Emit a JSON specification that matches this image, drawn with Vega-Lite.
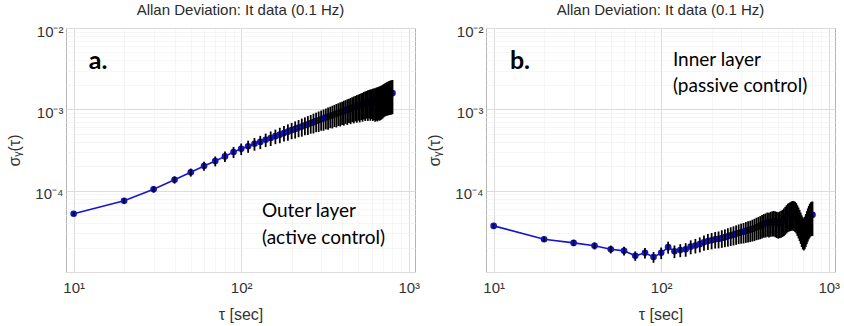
{
 "$schema": "https://vega.github.io/schema/vega-lite/v6.json",
 "background": "white",
 "padding": {"left": 6, "top": 2, "right": 0, "bottom": 0},
 "spacing": 5,
 "datasets": {
  "adev": [
   {"p":"a","t":10,"s":5.2e-5,"e":2.7e-6},{"p":"a","t":20,"s":7.5e-5,"e":5.5e-6},{"p":"a","t":30,"s":1.04e-4,"e":9.3e-6},{"p":"a","t":40,"s":1.36e-4,"e":1.4e-5},{"p":"a","t":50,"s":1.68e-4,"e":1.9e-5},{"p":"a","t":60,"s":2.01e-4,"e":2.5e-5},{"p":"a","t":70,"s":2.31e-4,"e":3.2e-5},{"p":"a","t":80,"s":2.64e-4,"e":3.9e-5},{"p":"a","t":90,"s":2.98e-4,"e":4.6e-5},{"p":"a","t":100,"s":3.27e-4,"e":5.3e-5},
   {"p":"a","t":110,"s":3.52e-4,"e":6.0e-5},{"p":"a","t":120,"s":3.77e-4,"e":6.7e-5},{"p":"a","t":130,"s":3.98e-4,"e":7.4e-5},{"p":"a","t":140,"s":4.23e-4,"e":8.0e-5},{"p":"a","t":150,"s":4.44e-4,"e":9.0e-5},{"p":"a","t":160,"s":4.68e-4,"e":9.5e-5},{"p":"a","t":170,"s":4.88e-4,"e":1.05e-4},{"p":"a","t":180,"s":5.12e-4,"e":1.11e-4},{"p":"a","t":190,"s":5.32e-4,"e":1.21e-4},{"p":"a","t":200,"s":5.55e-4,"e":1.26e-4},
   {"p":"a","t":210,"s":5.74e-4,"e":1.37e-4},{"p":"a","t":220,"s":5.96e-4,"e":1.42e-4},{"p":"a","t":230,"s":6.15e-4,"e":1.54e-4},{"p":"a","t":240,"s":6.38e-4,"e":1.58e-4},{"p":"a","t":250,"s":6.55e-4,"e":1.71e-4},{"p":"a","t":260,"s":6.78e-4,"e":1.76e-4},{"p":"a","t":270,"s":6.95e-4,"e":1.90e-4},{"p":"a","t":280,"s":7.17e-4,"e":1.93e-4},{"p":"a","t":290,"s":7.33e-4,"e":2.07e-4},{"p":"a","t":300,"s":7.56e-4,"e":2.10e-4},
   {"p":"a","t":310,"s":7.71e-4,"e":2.26e-4},{"p":"a","t":320,"s":7.95e-4,"e":2.28e-4},{"p":"a","t":330,"s":8.08e-4,"e":2.45e-4},{"p":"a","t":340,"s":8.32e-4,"e":2.46e-4},{"p":"a","t":350,"s":8.45e-4,"e":2.63e-4},{"p":"a","t":360,"s":8.70e-4,"e":2.64e-4},{"p":"a","t":370,"s":8.81e-4,"e":2.83e-4},{"p":"a","t":380,"s":9.06e-4,"e":2.82e-4},{"p":"a","t":390,"s":9.17e-4,"e":3.02e-4},{"p":"a","t":400,"s":9.42e-4,"e":3.00e-4},
   {"p":"a","t":410,"s":9.52e-4,"e":3.22e-4},{"p":"a","t":420,"s":9.80e-4,"e":3.18e-4},{"p":"a","t":430,"s":9.85e-4,"e":3.42e-4},{"p":"a","t":440,"s":1.015e-3,"e":3.38e-4},{"p":"a","t":450,"s":1.020e-3,"e":3.62e-4},{"p":"a","t":460,"s":1.052e-3,"e":3.56e-4},{"p":"a","t":470,"s":1.055e-3,"e":3.83e-4},{"p":"a","t":480,"s":1.085e-3,"e":3.75e-4},{"p":"a","t":490,"s":1.090e-3,"e":4.05e-4},{"p":"a","t":500,"s":1.120e-3,"e":3.95e-4},
   {"p":"a","t":510,"s":1.115e-3,"e":4.25e-4},{"p":"a","t":520,"s":1.155e-3,"e":4.15e-4},{"p":"a","t":530,"s":1.150e-3,"e":4.45e-4},{"p":"a","t":540,"s":1.190e-3,"e":4.40e-4},{"p":"a","t":550,"s":1.190e-3,"e":4.70e-4},{"p":"a","t":560,"s":1.225e-3,"e":4.55e-4},{"p":"a","t":570,"s":1.215e-3,"e":4.95e-4},{"p":"a","t":580,"s":1.250e-3,"e":4.80e-4},{"p":"a","t":590,"s":1.240e-3,"e":5.15e-4},{"p":"a","t":600,"s":1.260e-3,"e":5.00e-4},
   {"p":"a","t":610,"s":1.255e-3,"e":5.35e-4},{"p":"a","t":620,"s":1.270e-3,"e":5.30e-4},{"p":"a","t":630,"s":1.260e-3,"e":5.55e-4},{"p":"a","t":640,"s":1.285e-3,"e":5.60e-4},{"p":"a","t":650,"s":1.290e-3,"e":5.80e-4},{"p":"a","t":660,"s":1.310e-3,"e":5.75e-4},{"p":"a","t":670,"s":1.320e-3,"e":5.95e-4},{"p":"a","t":680,"s":1.340e-3,"e":6.00e-4},{"p":"a","t":690,"s":1.360e-3,"e":6.05e-4},{"p":"a","t":700,"s":1.390e-3,"e":6.15e-4},
   {"p":"a","t":710,"s":1.420e-3,"e":6.20e-4},{"p":"a","t":720,"s":1.450e-3,"e":6.30e-4},{"p":"a","t":730,"s":1.470e-3,"e":6.45e-4},{"p":"a","t":740,"s":1.495e-3,"e":6.55e-4},{"p":"a","t":750,"s":1.510e-3,"e":6.70e-4},{"p":"a","t":760,"s":1.530e-3,"e":6.80e-4},{"p":"a","t":770,"s":1.545e-3,"e":6.90e-4},{"p":"a","t":780,"s":1.560e-3,"e":7.00e-4},{"p":"a","t":790,"s":1.570e-3,"e":7.05e-4},{"p":"a","t":800,"s":1.585e-3,"e":7.10e-4},
   {"p":"b","t":10,"s":3.69e-5,"e":1.9e-6},{"p":"b","t":20,"s":2.53e-5,"e":1.8e-6},{"p":"b","t":30,"s":2.28e-5,"e":2.0e-6},{"p":"b","t":40,"s":2.10e-5,"e":2.1e-6},{"p":"b","t":50,"s":1.90e-5,"e":2.1e-6},{"p":"b","t":60,"s":1.82e-5,"e":2.3e-6},{"p":"b","t":70,"s":1.58e-5,"e":2.1e-6},{"p":"b","t":80,"s":1.72e-5,"e":2.5e-6},{"p":"b","t":90,"s":1.53e-5,"e":2.3e-6},{"p":"b","t":100,"s":1.72e-5,"e":2.8e-6},
   {"p":"b","t":110,"s":2.02e-5,"e":3.4e-6},{"p":"b","t":120,"s":1.80e-5,"e":3.2e-6},{"p":"b","t":130,"s":1.86e-5,"e":3.4e-6},{"p":"b","t":140,"s":1.90e-5,"e":3.6e-6},{"p":"b","t":150,"s":2.05e-5,"e":4.0e-6},{"p":"b","t":160,"s":2.12e-5,"e":4.3e-6},{"p":"b","t":170,"s":2.20e-5,"e":4.6e-6},{"p":"b","t":180,"s":2.32e-5,"e":5.0e-6},{"p":"b","t":190,"s":2.40e-5,"e":5.3e-6},{"p":"b","t":200,"s":2.46e-5,"e":5.6e-6},
   {"p":"b","t":210,"s":2.52e-5,"e":5.8e-6},{"p":"b","t":220,"s":2.55e-5,"e":6.0e-6},{"p":"b","t":230,"s":2.62e-5,"e":6.4e-6},{"p":"b","t":240,"s":2.68e-5,"e":6.6e-6},{"p":"b","t":250,"s":2.75e-5,"e":7.0e-6},{"p":"b","t":260,"s":2.82e-5,"e":7.3e-6},{"p":"b","t":270,"s":2.88e-5,"e":7.6e-6},{"p":"b","t":280,"s":2.95e-5,"e":7.9e-6},{"p":"b","t":290,"s":3.02e-5,"e":8.2e-6},{"p":"b","t":300,"s":3.08e-5,"e":8.5e-6},
   {"p":"b","t":310,"s":3.12e-5,"e":8.8e-6},{"p":"b","t":320,"s":3.20e-5,"e":9.2e-6},{"p":"b","t":330,"s":3.25e-5,"e":9.5e-6},{"p":"b","t":340,"s":3.30e-5,"e":9.7e-6},{"p":"b","t":350,"s":3.38e-5,"e":1.01e-5},{"p":"b","t":360,"s":3.45e-5,"e":1.05e-5},{"p":"b","t":370,"s":3.55e-5,"e":1.09e-5},{"p":"b","t":380,"s":3.62e-5,"e":1.13e-5},{"p":"b","t":390,"s":3.70e-5,"e":1.17e-5},{"p":"b","t":400,"s":3.80e-5,"e":1.22e-5},
   {"p":"b","t":410,"s":3.90e-5,"e":1.26e-5},{"p":"b","t":420,"s":3.95e-5,"e":1.30e-5},{"p":"b","t":430,"s":4.05e-5,"e":1.34e-5},{"p":"b","t":440,"s":4.00e-5,"e":1.34e-5},{"p":"b","t":450,"s":4.10e-5,"e":1.39e-5},{"p":"b","t":460,"s":4.15e-5,"e":1.42e-5},{"p":"b","t":470,"s":4.18e-5,"e":1.45e-5},{"p":"b","t":480,"s":4.12e-5,"e":1.45e-5},{"p":"b","t":490,"s":4.05e-5,"e":1.43e-5},{"p":"b","t":500,"s":4.00e-5,"e":1.43e-5},
   {"p":"b","t":510,"s":4.08e-5,"e":1.47e-5},{"p":"b","t":520,"s":4.15e-5,"e":1.51e-5},{"p":"b","t":530,"s":4.25e-5,"e":1.56e-5},{"p":"b","t":540,"s":4.40e-5,"e":1.64e-5},{"p":"b","t":550,"s":4.60e-5,"e":1.73e-5},{"p":"b","t":560,"s":4.80e-5,"e":1.82e-5},{"p":"b","t":570,"s":5.00e-5,"e":1.91e-5},{"p":"b","t":580,"s":5.10e-5,"e":1.96e-5},{"p":"b","t":590,"s":5.20e-5,"e":2.02e-5},{"p":"b","t":600,"s":5.30e-5,"e":2.08e-5},
   {"p":"b","t":610,"s":5.35e-5,"e":2.11e-5},{"p":"b","t":620,"s":5.30e-5,"e":2.11e-5},{"p":"b","t":630,"s":5.20e-5,"e":2.09e-5},{"p":"b","t":640,"s":5.00e-5,"e":2.02e-5},{"p":"b","t":650,"s":4.70e-5,"e":1.92e-5},{"p":"b","t":660,"s":4.40e-5,"e":1.81e-5},{"p":"b","t":670,"s":4.10e-5,"e":1.70e-5},{"p":"b","t":680,"s":3.80e-5,"e":1.58e-5},{"p":"b","t":690,"s":3.50e-5,"e":1.47e-5},{"p":"b","t":700,"s":3.30e-5,"e":1.40e-5},
   {"p":"b","t":710,"s":3.20e-5,"e":1.36e-5},{"p":"b","t":720,"s":3.35e-5,"e":1.44e-5},{"p":"b","t":730,"s":3.60e-5,"e":1.56e-5},{"p":"b","t":740,"s":3.90e-5,"e":1.70e-5},{"p":"b","t":750,"s":4.20e-5,"e":1.84e-5},{"p":"b","t":760,"s":4.50e-5,"e":1.98e-5},{"p":"b","t":770,"s":4.75e-5,"e":2.11e-5},{"p":"b","t":780,"s":4.95e-5,"e":2.21e-5},{"p":"b","t":790,"s":5.05e-5,"e":2.27e-5},{"p":"b","t":800,"s":5.05e-5,"e":2.28e-5}
  ],
  "notes": [
   {"p":"a","k":"big","t":12.3,"s":0.00313,"label":"a."},
   {"p":"a","k":"note","t":133,"s":4.7e-5,"label":"Outer layer"},
   {"p":"a","k":"note","t":133,"s":2.2e-5,"label":"(active control)"},
   {"p":"b","k":"big","t":12.5,"s":0.00313,"label":"b."},
   {"p":"b","k":"note","t":117.5,"s":0.00343,"label":"Inner layer"},
   {"p":"b","k":"note","t":117.5,"s":0.00162,"label":"(passive control)"}
  ]
 },
 "hconcat": [
  {
   "width": 349, "height": 244,
   "title": "Allan Deviation: It data (0.1 Hz)",
   "encoding": {
    "x": {"field": "t", "type": "quantitative", "scale": {"type": "log", "domain": [9, 1090], "nice": false},
      "axis": {"title": "τ [sec]", "values": [10,20,30,40,50,60,70,80,90,100,200,300,400,500,600,700,800,900,1000],
        "labelExpr": "datum.value==10?'10¹':datum.value==100?'10²':datum.value==1000?'10³':''",
        "gridColor": {"condition": {"test": "datum.value==10||datum.value==100||datum.value==1000", "value": "#dcdcdc"}, "value": "#ececec"},
        "gridDash": {"condition": {"test": "datum.value==10||datum.value==100||datum.value==1000", "value": []}, "value": [1, 1]}}},
    "y": {"field": "s", "type": "quantitative", "scale": {"type": "log", "domain": [0.00001, 0.01], "nice": false},
      "axis": {"title": "σᵧ(τ)", "values": [0.00001,0.00002,0.00003,0.00004,0.00005,0.00006,0.00007,0.00008,0.00009,0.0001,0.0002,0.0003,0.0004,0.0005,0.0006,0.0007,0.0008,0.0009,0.001,0.002,0.003,0.004,0.005,0.006,0.007,0.008,0.009,0.01],
        "labelExpr": "datum.value==0.01?'10⁻²':datum.value==0.001?'10⁻³':datum.value==0.0001?'10⁻⁴':''",
        "gridColor": {"condition": {"test": "datum.value==0.00001||datum.value==0.0001||datum.value==0.001||datum.value==0.01", "value": "#dcdcdc"}, "value": "#ececec"},
        "gridDash": {"condition": {"test": "datum.value==0.00001||datum.value==0.0001||datum.value==0.001||datum.value==0.01", "value": []}, "value": [1, 1]}}}
   },
   "layer": [
    {"data": {"name": "adev"}, "transform": [{"filter": "datum.p=='a'"}], "mark": {"type": "line", "color": "#1616d0", "strokeWidth": 1.6}},
    {"data": {"name": "adev"}, "transform": [{"filter": "datum.p=='a'"}], "mark": {"type": "point", "filled": true, "size": 44, "color": "#1212c8", "opacity": 1}},
    {"data": {"name": "adev"}, "transform": [{"filter": "datum.p=='a'"}], "mark": {"type": "errorbar", "color": "black", "thickness": 1.8}, "encoding": {"yError": {"field": "e"}}},
    {"data": {"name": "notes"}, "transform": [{"filter": "datum.p=='a' && datum.k=='big'"}], "mark": {"type": "text", "align": "left", "baseline": "alphabetic", "font": "Lato", "fontSize": 25, "fontWeight": "bold", "color": "black"}, "encoding": {"text": {"field": "label"}}},
    {"data": {"name": "notes"}, "transform": [{"filter": "datum.p=='a' && datum.k=='note'"}], "mark": {"type": "text", "align": "left", "baseline": "alphabetic", "font": "Lato", "fontSize": 19, "color": "black"}, "encoding": {"text": {"field": "label"}}}
   ]
  },
  {
   "width": 349, "height": 244,
   "title": "Allan Deviation: It data (0.1 Hz)",
   "encoding": {
    "x": {"field": "t", "type": "quantitative", "scale": {"type": "log", "domain": [9, 1090], "nice": false},
      "axis": {"title": "τ [sec]", "values": [10,20,30,40,50,60,70,80,90,100,200,300,400,500,600,700,800,900,1000],
        "labelExpr": "datum.value==10?'10¹':datum.value==100?'10²':datum.value==1000?'10³':''",
        "gridColor": {"condition": {"test": "datum.value==10||datum.value==100||datum.value==1000", "value": "#dcdcdc"}, "value": "#ececec"},
        "gridDash": {"condition": {"test": "datum.value==10||datum.value==100||datum.value==1000", "value": []}, "value": [1, 1]}}},
    "y": {"field": "s", "type": "quantitative", "scale": {"type": "log", "domain": [0.00001, 0.01], "nice": false},
      "axis": {"title": "σᵧ(τ)", "values": [0.00001,0.00002,0.00003,0.00004,0.00005,0.00006,0.00007,0.00008,0.00009,0.0001,0.0002,0.0003,0.0004,0.0005,0.0006,0.0007,0.0008,0.0009,0.001,0.002,0.003,0.004,0.005,0.006,0.007,0.008,0.009,0.01],
        "labelExpr": "datum.value==0.01?'10⁻²':datum.value==0.001?'10⁻³':datum.value==0.0001?'10⁻⁴':''",
        "gridColor": {"condition": {"test": "datum.value==0.00001||datum.value==0.0001||datum.value==0.001||datum.value==0.01", "value": "#dcdcdc"}, "value": "#ececec"},
        "gridDash": {"condition": {"test": "datum.value==0.00001||datum.value==0.0001||datum.value==0.001||datum.value==0.01", "value": []}, "value": [1, 1]}}}
   },
   "layer": [
    {"data": {"name": "adev"}, "transform": [{"filter": "datum.p=='b'"}], "mark": {"type": "line", "color": "#1616d0", "strokeWidth": 1.6}},
    {"data": {"name": "adev"}, "transform": [{"filter": "datum.p=='b'"}], "mark": {"type": "point", "filled": true, "size": 44, "color": "#1212c8", "opacity": 1}},
    {"data": {"name": "adev"}, "transform": [{"filter": "datum.p=='b'"}], "mark": {"type": "errorbar", "color": "black", "thickness": 1.8}, "encoding": {"yError": {"field": "e"}}},
    {"data": {"name": "notes"}, "transform": [{"filter": "datum.p=='b' && datum.k=='big'"}], "mark": {"type": "text", "align": "left", "baseline": "alphabetic", "font": "Lato", "fontSize": 25, "fontWeight": "bold", "color": "black"}, "encoding": {"text": {"field": "label"}}},
    {"data": {"name": "notes"}, "transform": [{"filter": "datum.p=='b' && datum.k=='note'"}], "mark": {"type": "text", "align": "left", "baseline": "alphabetic", "font": "Lato", "fontSize": 19, "color": "black"}, "encoding": {"text": {"field": "label"}}}
   ]
  }
 ],
 "config": {
  "font": "Liberation Sans",
  "view": {"stroke": "#b4b4b4", "strokeWidth": 1},
  "title": {"fontSize": 15, "fontWeight": "normal", "color": "#2a2a2a", "offset": 6},
  "axis": {"ticks": false, "domain": false, "labelFontSize": 15, "labelColor": "#333333", "labelOverlap": false,
    "titleFontSize": 16, "titleFontWeight": "normal", "titleColor": "#333333"},
  "axisX": {"labelPadding": 8, "titlePadding": 11, "labelFlush": false},
  "axisY": {"labelPadding": 3, "titlePadding": 12, "labelOffset": 3}
 }
}
